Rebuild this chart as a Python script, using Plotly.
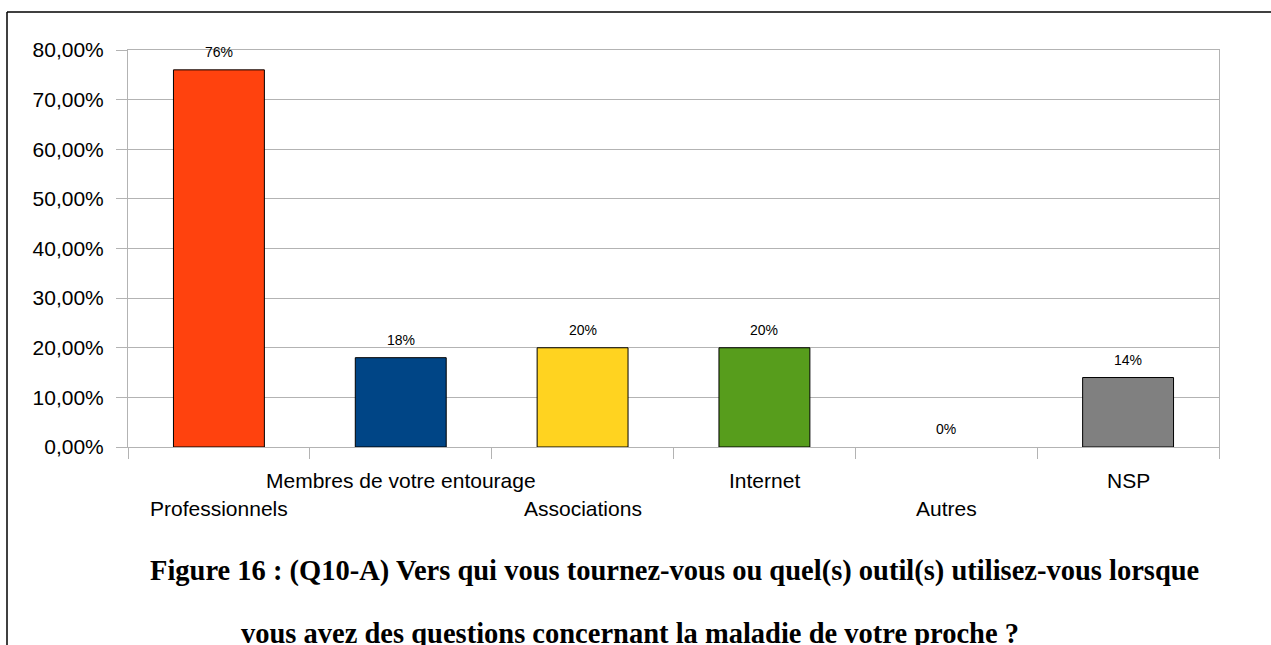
import plotly.graph_objects as go

# Données
categories = ['Professionnels', 'Membres de votre entourage', 'Associations',
              'Internet', 'Autres', 'NSP']
valeurs = [0.76, 0.18, 0.20, 0.20, 0.00, 0.14]
couleurs = ['#ff420e', '#004586', '#ffd320', '#579d1c', '#7e0021', '#808080']
y_ticks = [0, 0.1, 0.2, 0.3, 0.4, 0.5, 0.6, 0.7, 0.8]

titre_1 = "Figure 16 : (Q10-A) Vers qui vous tournez-vous ou quel(s) outil(s) utilisez-vous lorsque"
titre_2 = "vous avez des questions concernant la maladie de votre proche ?"

W, H = 1271, 645
L, R, T, B = 128, 52, 50, 198
pw, ph = W - L - R, H - T - B


def px_x(x):
    return (x - L) / pw


def px_y(y):
    return (T + ph - y) / ph


fig = go.Figure()
fig.add_trace(go.Bar(
    x=categories,
    y=valeurs,
    marker=dict(color=couleurs,
                line=dict(color='#000000', width=[1 if v > 0 else 0 for v in valeurs])),
    showlegend=False,
))

# étiquettes de valeurs au-dessus des barres
for cat, v in zip(categories, valeurs):
    fig.add_annotation(x=cat, y=v, xref='x', yref='y', text=f"{round(v * 100)}%",
                       showarrow=False, yanchor='bottom', yshift=8,
                       font=dict(family='Liberation Sans', size=14, color='#000000'))

# libellés de catégories en quinconce
for i, cat in enumerate(categories):
    dy = 61 if i % 2 == 0 else 33
    fig.add_annotation(x=cat, y=0, xref='x', yref='paper', text=cat,
                       showarrow=False, yanchor='middle', yshift=-dy,
                       font=dict(family='Liberation Sans', size=21, color='#000000'))

# légende de la figure (deux lignes)
police_titre = dict(family='Liberation Serif', size=28.5, color='#000000')
fig.add_annotation(x=px_x(674), y=px_y(571), xref='paper', yref='paper',
                   text=f"<b>{titre_1}</b>", showarrow=False, xanchor='center',
                   yanchor='middle', font=police_titre)
fig.add_annotation(x=px_x(630), y=px_y(633), xref='paper', yref='paper',
                   text=f"<b>{titre_2}</b>", showarrow=False, xanchor='center',
                   yanchor='middle', font=police_titre)

# cadre autour de la figure : seuls les bords haut et gauche sont visibles
cadre = dict(color='#000000', width=1.5)
fig.add_shape(type='line', xref='paper', yref='paper',
              x0=px_x(7), x1=px_x(W), y0=px_y(12), y1=px_y(12), line=cadre)
fig.add_shape(type='line', xref='paper', yref='paper',
              x0=px_x(7), x1=px_x(7), y0=px_y(12), y1=px_y(H), line=cadre)

fig.update_layout(
    width=W,
    height=H,
    margin=dict(l=L, r=R, t=T, b=B),
    plot_bgcolor='white',
    paper_bgcolor='white',
    bargap=0.5,
    separators=', ',
    font=dict(family='Liberation Sans', size=21, color='#000000'),
    xaxis=dict(
        type='category',
        range=[-0.5, len(categories) - 0.5],
        tickson='boundaries',
        ticks='outside',
        ticklen=11,
        tickcolor='#b3b3b3',
        showticklabels=False,
        showgrid=False,
        showline=True,
        linecolor='#b3b3b3',
        mirror=True,
    ),
    yaxis=dict(
        range=[0, 0.8],
        tickvals=y_ticks,
        tickformat='.2%',
        ticks='outside',
        ticklen=11,
        tickcolor='#b3b3b3',
        ticklabelstandoff=8,
        showgrid=True,
        gridcolor='#b3b3b3',
        showline=True,
        linecolor='#b3b3b3',
        mirror=True,
        zeroline=False,
        tickfont=dict(family='Liberation Sans', size=21, color='#000000'),
    ),
)

# pas de marge autour du graphique dans la page, pas de barre d'outils
fig.write_html("out.html", config={'displayModeBar': False},
               post_script="document.body.style.margin = '0';")
